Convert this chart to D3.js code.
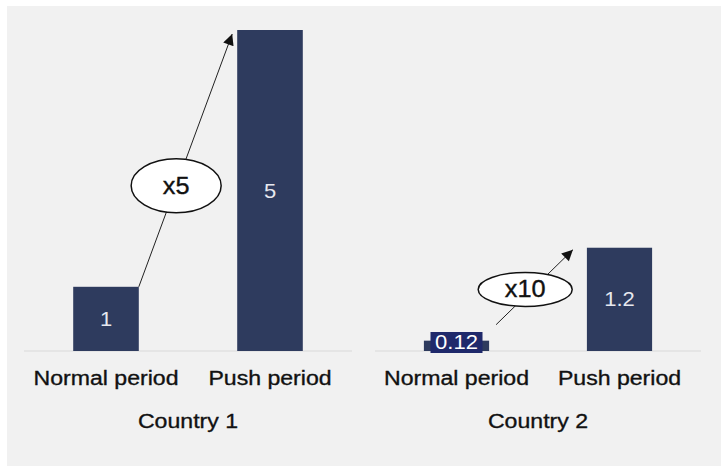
<!DOCTYPE html>
<html>
<head>
<meta charset="utf-8">
<script src="https://cdn.jsdelivr.net/npm/d3@7"></script>
<style>
  body { margin: 0; background: #ffffff; }
  text { font-family: "Liberation Sans", Arial, sans-serif; }
  text.oscuro { stroke: #111; stroke-width: 0.35px; }
</style>
</head>
<body>
<script>
//los datos que nos interesa representar
var paises = ["Country 1", "Country 2"];
var periodos = ["Normal period", "Push period"];
var valoresPais1 = [1, 5];
var valoresPais2 = [0.12, 1.2];
var etiquetasPais1 = ["1", "5"];
var etiquetasPais2 = ["0.12", "1.2"];
var multiplicadores = ["x5", "x10"];
//cada pais tiene su propio eje (maximo del eje vertical)
var maximoEje = [5, 3.73];

//variable que contiene los elementos visuales
var vis = {
    svgWidth: 724,
    svgHeight: 467,
    base: 351,
    tope: 30,
    colorBarra: "#2e3b5e",
    colorCaja: "#1f296b",
    estirar: 1.1,
    paneles: [
        {x0: 24, x1: 352, flechaIni: [0, 0], flechaFin: [-5, 4], t: 0.4, dx: 0, rx: 45, ry: 27},
        {x0: 375, x1: 701, flechaIni: [7, -16], flechaFin: [-14, 2], t: 0.47, dx: -7, rx: 47, ry: 17}
    ]
};

var valores = [valoresPais1, valoresPais2];
var etiquetas = [etiquetasPais1, etiquetasPais2];

var svg = d3.select("body")
            .append("svg")
            .attr("width", vis.svgWidth)
            .attr("height", vis.svgHeight);

//fondo gris
svg.append("rect")
    .attr("x", 7).attr("y", 6)
    .attr("width", 714).attr("height", 460)
    .attr("fill", "#f1f1f1");

//punta de flecha
svg.append("defs").append("marker")
    .attr("id", "punta")
    .attr("viewBox", "0 -5 10 10")
    .attr("refX", 10).attr("refY", 0)
    .attr("markerUnits", "userSpaceOnUse")
    .attr("markerWidth", 13).attr("markerHeight", 11)
    .attr("orient", "auto")
    .append("path")
    .attr("d", "M0,-5L10,0L0,5Z")
    .attr("fill", "#111");

//texto un poco ensanchado como en la imagen
function texto(g, x, y, t, size, color) {
    return g.append("text")
        .attr("class", color == "#111" ? "oscuro" : null)
        .attr("transform", "translate(" + x + "," + y + ") scale(" + vis.estirar + ",1)")
        .attr("text-anchor", "middle")
        .attr("font-size", size)
        .attr("fill", color)
        .text(t);
}

paises.forEach(function(pais, p) {
    var conf = vis.paneles[p];
    var g = svg.append("g");

    var x = d3.scaleBand()
        .domain(periodos)
        .range([conf.x0, conf.x1])
        .paddingInner(0.6)
        .paddingOuter(0.3);

    var y = d3.scaleLinear()
        .domain([0, maximoEje[p]])
        .range([vis.base, vis.tope]);

    //linea base
    g.append("line")
        .attr("x1", conf.x0).attr("x2", conf.x1)
        .attr("y1", vis.base).attr("y2", vis.base)
        .attr("stroke", "#d9d9d9")
        .attr("stroke-width", 1);

    var datos = periodos.map(function(c, i) {
        return {cat: c, valor: valores[p][i], etiqueta: etiquetas[p][i]};
    });

    //rectangulos
    g.selectAll("rect.barra")
        .data(datos)
        .enter()
        .append("rect")
        .attr("class", "barra")
        .attr("x", function(d) { return x(d.cat); })
        .attr("y", function(d) { return y(d.valor); })
        .attr("width", x.bandwidth())
        .attr("height", function(d) { return vis.base - y(d.valor); })
        .attr("fill", vis.colorBarra);

    //etiquetas de valor
    datos.forEach(function(d) {
        var cx = x(d.cat) + x.bandwidth() / 2;
        var alto = vis.base - y(d.valor);
        if (alto > 30) {
            texto(g, cx, y(d.valor) + alto / 2 + 7, d.etiqueta, 20, "#e6e8ef");
        } else {
            //barra muy baja: la etiqueta va en una cajita
            g.append("rect")
                .attr("x", cx - 26).attr("y", vis.base - 19)
                .attr("width", 52).attr("height", 21)
                .attr("fill", vis.colorCaja);
            texto(g, cx, vis.base - 2, d.etiqueta, 20, "#ffffff");
        }
    });

    //categorias
    periodos.forEach(function(c) {
        texto(g, x(c) + x.bandwidth() / 2, 385, c, 21, "#111");
    });

    //nombre del pais
    texto(g, (x(periodos[0]) + x(periodos[1]) + x.bandwidth()) / 2, 428, pais, 21, "#111");

    //flecha de la barra normal a la barra push
    var x1 = x(periodos[0]) + x.bandwidth() + conf.flechaIni[0];
    var y1 = y(valores[p][0]) + conf.flechaIni[1];
    var x2 = x(periodos[1]) + conf.flechaFin[0];
    var y2 = y(valores[p][1]) + conf.flechaFin[1];

    g.append("line")
        .attr("x1", x1).attr("y1", y1)
        .attr("x2", x2).attr("y2", y2)
        .attr("stroke", "#222")
        .attr("stroke-width", 1)
        .attr("marker-end", "url(#punta)");

    //elipse con el multiplicador
    var ex = x1 + (x2 - x1) * conf.t + conf.dx;
    var ey = y1 + (y2 - y1) * conf.t;
    g.append("ellipse")
        .attr("cx", ex).attr("cy", ey)
        .attr("rx", conf.rx).attr("ry", conf.ry)
        .attr("fill", "#ffffff")
        .attr("stroke", "#111")
        .attr("stroke-width", 1.5);
    texto(g, ex, ey + 8, multiplicadores[p], 23, "#111");
});
</script>
</body>
</html>
